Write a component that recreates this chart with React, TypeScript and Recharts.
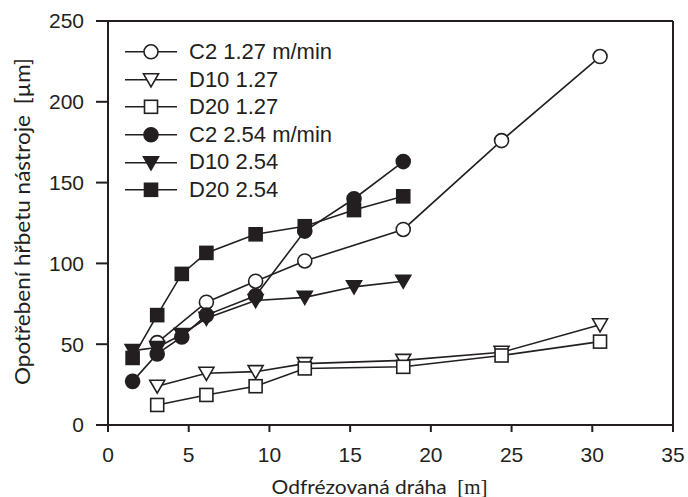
import React from 'react';
import { LineChart, Line, XAxis, YAxis, ReferenceLine, Label } from 'recharts';

// Distances [m] (5 ft steps)
const xFast = [1.524, 3.048, 4.572, 6.096, 9.144, 12.19, 15.24, 18.29];
const xSlow = [3.048, 6.096, 9.144, 12.19, 18.29, 24.38, 30.48];

// Flank wear [µm]
const c2Slow = [51, 76, 89, 101.5, 121, 176, 228];
const d10Slow = [24, 32, 33, 38, 40, 45, 62];
const d20Slow = [12.4, 18.6, 24, 35, 36, 43, 51.6];
const c2Fast = [27, 44, 54.5, 68, 80, 120, 140, 163];
const d10Fast = [46, 48, 56, 66, 77, 79, 85.5, 89];
const d20Fast = [41.5, 68, 93.5, 106.5, 118, 123, 133, 141.5];

const xTicks = [0, 5, 10, 15, 20, 25, 30, 35];
const yTicks = [0, 50, 100, 150, 200, 250];

const INK = '#231f20';

type Shape = 'circle' | 'triangle' | 'square';

interface SeriesDef {
  name: string;
  xs: number[];
  ys: number[];
  shape: Shape;
  filled: boolean;
}

const legendOrder: SeriesDef[] = [
  { name: 'C2 1.27 m/min', xs: xSlow, ys: c2Slow, shape: 'circle', filled: false },
  { name: 'D10 1.27', xs: xSlow, ys: d10Slow, shape: 'triangle', filled: false },
  { name: 'D20 1.27', xs: xSlow, ys: d20Slow, shape: 'square', filled: false },
  { name: 'C2 2.54 m/min', xs: xFast, ys: c2Fast, shape: 'circle', filled: true },
  { name: 'D10 2.54', xs: xFast, ys: d10Fast, shape: 'triangle', filled: true },
  { name: 'D20 2.54', xs: xFast, ys: d20Fast, shape: 'square', filled: true },
];

const drawOrder = [0, 1, 2, 4, 3, 5].map((i) => legendOrder[i]);

function Marker({ cx, cy, shape, filled }: { cx: number; cy: number; shape: Shape; filled: boolean }) {
  const fill = filled ? INK : '#ffffff';
  const sw = 1.6;
  if (shape === 'circle') {
    return <circle cx={cx} cy={cy} r={7} fill={fill} stroke={INK} strokeWidth={sw} />;
  }
  if (shape === 'square') {
    return <rect x={cx - 6.5} y={cy - 6.5} width={13} height={13} fill={fill} stroke={INK} strokeWidth={sw} />;
  }
  const pts = `${cx - 7.5},${cy - 6} ${cx + 7.5},${cy - 6} ${cx},${cy + 7}`;
  return <polygon points={pts} fill={fill} stroke={INK} strokeWidth={sw} strokeLinejoin="miter" />;
}

function XTitle(props: any) {
  const vb = props.viewBox || {};
  const cx = vb.x + vb.width / 2 - 11;
  return (
    <text
      x={cx}
      y={494}
      textAnchor="middle"
      fill={INK}
      style={{ fontFamily: 'Lato, "Open Sans", sans-serif', fontSize: 20 }}
      textLength={216}
      lengthAdjust="spacingAndGlyphs"
    >
      Odfrézovaná dráha
      <tspan dx={10} style={{ fontFamily: '"Liberation Serif", "DejaVu Serif", serif' }}>[m]</tspan>
    </text>
  );
}

function YTitle(props: any) {
  const vb = props.viewBox || {};
  const cy = vb.y + vb.height / 2 - 1.5;
  const x = 30;
  return (
    <text
      x={x}
      y={cy}
      transform={`rotate(-90 ${x} ${cy})`}
      textAnchor="middle"
      fill={INK}
      style={{ fontFamily: 'Lato, "Open Sans", sans-serif', fontSize: 21 }}
      textLength={327}
      lengthAdjust="spacingAndGlyphs"
    >
      Opotřebení hřbetu nástroje
      <tspan dx={10}>[µm]</tspan>
    </text>
  );
}

function LegendBox() {
  const rowH = 27.6;
  return (
    <div style={{ position: 'absolute', left: 125, top: 52 - rowH / 2, pointerEvents: 'none' }}>
      {legendOrder.map((s) => (
        <div key={s.name} style={{ height: rowH, display: 'flex', alignItems: 'center' }}>
          <svg width={52} height={rowH} style={{ display: 'block' }}>
            <line x1={0} y1={rowH / 2} x2={52} y2={rowH / 2} stroke={INK} strokeWidth={1.6} />
            <Marker cx={26} cy={rowH / 2} shape={s.shape} filled={s.filled} />
          </svg>
          <span
            style={{
              marginLeft: 12,
              fontFamily: '"Liberation Sans", Arial, sans-serif',
              fontSize: 22,
              color: INK,
              whiteSpace: 'nowrap',
              lineHeight: '22px',
            }}
          >
            {s.name}
          </span>
        </div>
      ))}
    </div>
  );
}

export default function App() {
  const tickStyle = { fontSize: 21, fill: INK, fontFamily: '"Liberation Sans", Arial, sans-serif' };
  return (
    <div style={{ position: 'absolute', left: 0, top: 0, width: 688, height: 497, background: '#fff' }}>
      <LineChart width={688} height={497} margin={{ top: 21, right: 15, left: 0, bottom: 0 }}>
        <XAxis
          type="number"
          dataKey="x"
          domain={[0, 35]}
          ticks={xTicks}
          allowDataOverflow
          height={72}
          stroke={INK}
          strokeWidth={2}
          tickSize={7}
          tickMargin={15}
          tick={tickStyle}
          tickLine={{ stroke: INK, strokeWidth: 2 }}
        >
          <Label content={<XTitle />} />
        </XAxis>
        <YAxis
          type="number"
          domain={[0, 250]}
          ticks={yTicks}
          width={108}
          stroke={INK}
          strokeWidth={2}
          tickSize={12}
          tickMargin={12}
          tick={tickStyle}
          tickLine={{ stroke: INK, strokeWidth: 2 }}
        >
          <Label content={<YTitle />} />
        </YAxis>
        <ReferenceLine y={250} stroke={INK} strokeWidth={2} ifOverflow="visible" />
        <ReferenceLine x={35} stroke={INK} strokeWidth={2} ifOverflow="visible" />
        {drawOrder.map((s) => (
          <Line
            key={s.name}
            name={s.name}
            data={s.xs.map((x, i) => ({ x, y: s.ys[i] }))}
            dataKey="y"
            type="linear"
            stroke={INK}
            strokeWidth={1.6}
            isAnimationActive={false}
            activeDot={false}
            dot={(p: any) => (
              <Marker key={`${s.name}-${p.index}`} cx={p.cx} cy={p.cy} shape={s.shape} filled={s.filled} />
            )}
          />
        ))}
      </LineChart>
      <LegendBox />
    </div>
  );
}
